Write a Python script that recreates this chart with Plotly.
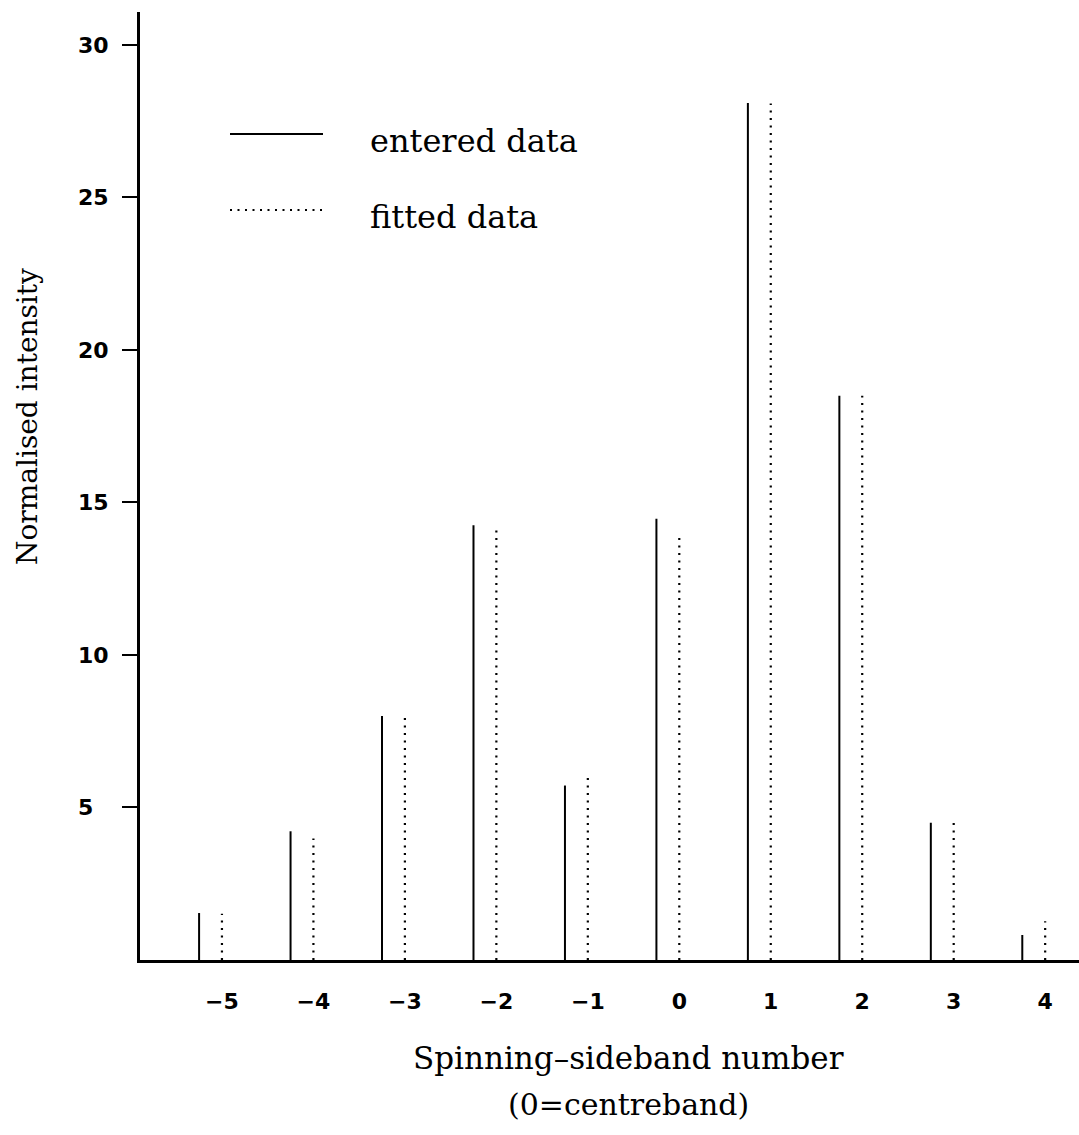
import plotly.graph_objects as go

# ---- data ----
sideband = [-5, -4, -3, -2, -1, 0, 1, 2, 3, 4]
entered = [1.54, 4.22, 8.0, 14.25, 5.72, 14.47, 28.1, 18.5, 4.5, 0.82]
fitted = [1.52, 3.98, 8.0, 14.25, 5.97, 14.0, 28.08, 18.5, 4.5, 1.27]
ytick_vals = [5, 10, 15, 20, 25, 30]
ytick_text = ["5\u2007", "10", "15", "20", "25", "30"]
xtick_text = ["\u22125", "\u22124", "\u22123", "\u22122", "\u22121", "0", "1", "2", "3", "4"]
entered_offset = -0.25

W, H = 1079, 1135
L, R, T, B = 140, 0, 12, 175


def stems(xs, ys):
    X, Y = [], []
    for x, y in zip(xs, ys):
        X += [x, x, None]
        Y += [0, y, None]
    return X, Y


ex, ey = stems([s + entered_offset for s in sideband], entered)
fx, fy = stems(sideband, fitted)

fig = go.Figure()
fig.add_trace(go.Scatter(x=ex, y=ey, mode="lines", name="entered data",
                         line=dict(color="black", width=2), showlegend=False,
                         hoverinfo="skip"))
fig.add_trace(go.Scatter(x=fx, y=fy, mode="lines", name="fitted data",
                         line=dict(color="black", width=2.2, dash="2px,5.5px"),
                         showlegend=False, hoverinfo="skip"))

pw = W - L - R
ph = H - T - B


def px(xp):
    return (xp - L) / pw


def py(yp):
    return (H - B - yp) / ph


# legend (drawn manually to match the original layout)
fig.add_shape(type="line", xref="paper", yref="paper", x0=px(230), x1=px(323),
              y0=py(134), y1=py(134), line=dict(color="black", width=2))
fig.add_shape(type="line", xref="paper", yref="paper", x0=px(230), x1=px(323),
              y0=py(210), y1=py(210), line=dict(color="black", width=2, dash="2px,5.5px"))

serif = "DejaVu Serif"
fig.add_annotation(xref="paper", yref="paper", x=px(368), y=py(141), text="entered data",
                   showarrow=False, xanchor="left", yanchor="middle",
                   font=dict(family=serif, size=32, color="black"))
fig.add_annotation(xref="paper", yref="paper", x=px(368), y=py(217), text="fitted data",
                   showarrow=False, xanchor="left", yanchor="middle",
                   font=dict(family=serif, size=32, color="black"))

# axis titles
fig.add_annotation(xref="paper", yref="paper", x=px(28), y=py(417), text="Normalised intensity",
                   showarrow=False, textangle=-90, xanchor="center", yanchor="middle",
                   font=dict(family=serif, size=28, color="black"))
fig.add_annotation(xref="paper", yref="paper", x=px(628), y=py(1058),
                   text="Spinning\u2013sideband number",
                   showarrow=False, xanchor="center", yanchor="middle",
                   font=dict(family=serif, size=31, color="black"))
fig.add_annotation(xref="paper", yref="paper", x=px(628), y=py(1104),
                   text="(0=centreband)",
                   showarrow=False, xanchor="center", yanchor="middle",
                   font=dict(family=serif, size=30, color="black"))

tickfont = dict(family="DejaVu Sans", size=22, color="black", weight="bold")

fig.update_layout(
    width=W, height=H,
    margin=dict(l=L, r=R, t=T, b=B, pad=0),
    paper_bgcolor="white", plot_bgcolor="white",
    showlegend=False,
    xaxis=dict(range=[-5.896, 4.37], showgrid=False, zeroline=False,
               showline=True, linecolor="black", linewidth=3,
               tickmode="array", tickvals=sideband, ticktext=xtick_text,
               ticks="", tickfont=tickfont, ticklabelstandoff=20),
    yaxis=dict(range=[0, 31.08], showgrid=False, zeroline=False,
               showline=True, linecolor="black", linewidth=3,
               tickmode="array", tickvals=ytick_vals, ticktext=ytick_text,
               ticks="outside", ticklen=15, tickwidth=2, tickcolor="black",
               tickfont=tickfont, ticklabelstandoff=9),
)

fig.write_html("out.html")
